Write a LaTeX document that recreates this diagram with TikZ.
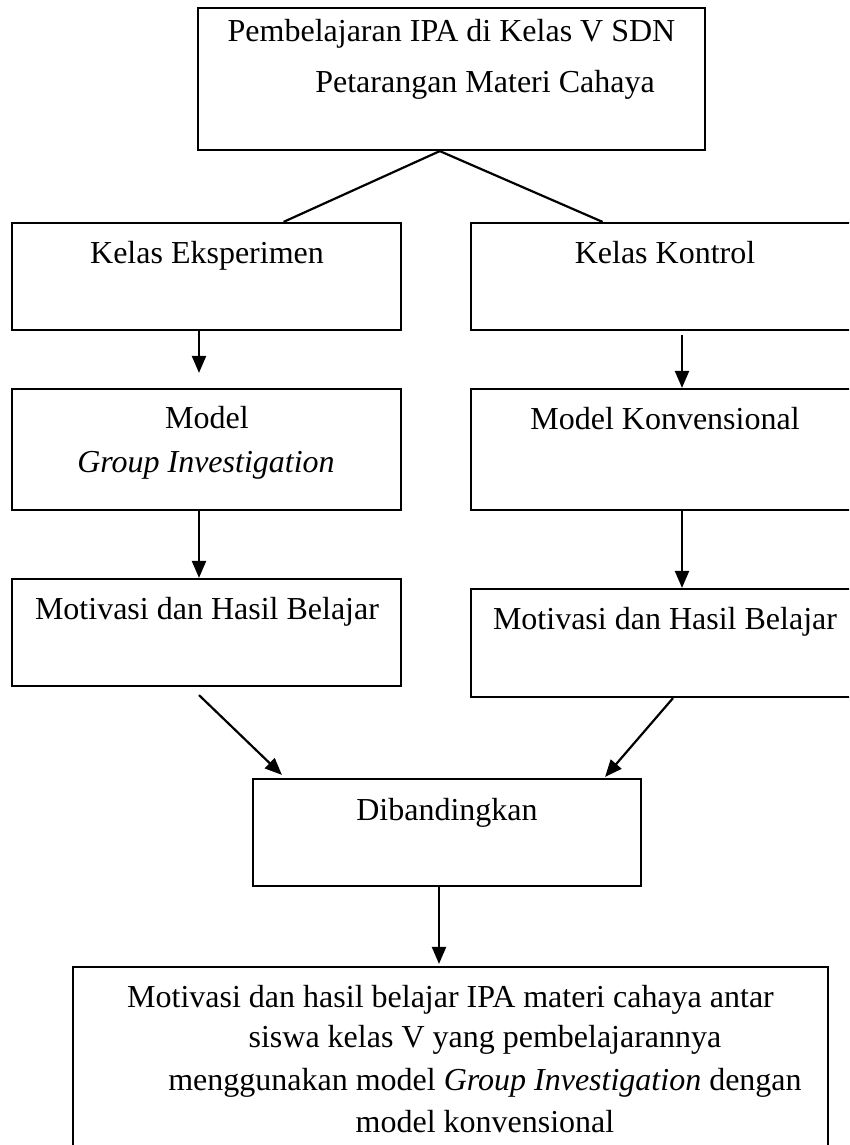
\documentclass[tikz,border=0pt]{standalone}
\usepackage{fontspec}
\setmainfont{Liberation Serif}
\usetikzlibrary{arrows.meta,calc}
\begin{document}
\begin{tikzpicture}[x=1pt,y=-1pt,
  box/.style={draw, line width=2.2pt, inner sep=0pt, anchor=center},
  lbl/.style={anchor=base, inner sep=0pt, font=\fontsize{32}{38}\selectfont},
  link/.style={line width=2.2pt},
  arr/.style={line width=2.2pt, -{Triangle[length=17pt,width=14pt]}}]
\useasboundingbox (0,0) rectangle (849,1145);
\clip (0,0) rectangle (849,1145);
% boxes
\node[box, minimum width=507pt, minimum height=142pt] (top) at (451.5,79) {};
\node[box, minimum width=389pt, minimum height=107pt] (kE) at (206.5,276.5) {};
\node[box, minimum width=388pt, minimum height=107pt] (kK) at (665,276.5) {};
\node[box, minimum width=389pt, minimum height=121pt] (mG) at (206.5,449.5) {};
\node[box, minimum width=388pt, minimum height=121pt] (mK) at (665,449.5) {};
\node[box, minimum width=389pt, minimum height=107pt] (hL) at (206.5,632.5) {};
\node[box, minimum width=388pt, minimum height=108pt] (hR) at (665,643) {};
\node[box, minimum width=388pt, minimum height=107pt] (dib) at (447,832.5) {};
\node[box, minimum width=755pt, minimum height=200pt] (bot) at (450.5,1067) {};
% texts
\node[lbl] (t1) at (451.5,42) {Pembelajaran IPA di Kelas V SDN};
\node[lbl] (t2) at (485,93) {Petarangan Materi Cahaya};
\node[lbl] (tkE) at (207,263) {Kelas Eksperimen};
\node[lbl] (tkK) at (665,263) {Kelas Kontrol};
\node[lbl] (tmG1) at (207,428) {Model};
\node[lbl] (tmG2) at (206,472) {\textit{Group Investigation}};
\node[lbl] (tmK) at (665,429) {Model Konvensional};
\node[lbl] (thL) at (207,619) {Motivasi dan Hasil Belajar};
\node[lbl] (thR) at (665,629) {Motivasi dan Hasil Belajar};
\node[lbl] (tdib) at (447,820) {Dibandingkan};
\node[lbl] (b1) at (450.5,1007) {Motivasi dan hasil belajar IPA materi cahaya antar};
\node[lbl] (b2) at (485,1047) {siswa kelas V yang pembelajarannya};
\node[lbl] (b3) at (485,1090) {menggunakan model \textit{Group Investigation} dengan};
\node[lbl] (b4) at (485,1132) {model konvensional};
% connectors
\coordinate (apex) at ($(top.south west)!0.477!(top.south east)$);
\draw[link] (apex) -- ($(kE.north west)!0.697!(kE.north east)$);
\draw[link] (apex) -- ($(kK.north west)!0.34!(kK.north east)$);
\draw[arr] ($(kE.south)+(-7.5,0)$) -- ($(mG.north)+(-7.5,-15)$);
\draw[arr] ($(kK.south)+(17,4)$) -- ($(mK.north)+(17,0)$);
\draw[arr] ($(mG.south)+(-7.5,0)$) -- ($(hL.north)+(-7.5,0)$);
\draw[arr] ($(mK.south)+(17,0)$) -- ($(hR.north)+(17,0)$);
\draw[arr] ($(hL.south)+(-7.5,8)$) -- ($(dib.north west)+(30,-3)$);
\draw[arr] ($(hR.south)+(8,0)$) -- ($(dib.north east)+(-37,-1)$);
\draw[arr] ($(dib.south)+(-8,0)$) -- ($(bot.north)+(-11.5,-2)$);
\end{tikzpicture}
\end{document}
